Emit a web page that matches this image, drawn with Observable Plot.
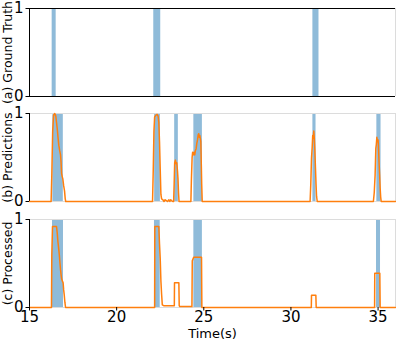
<!DOCTYPE html>
<html><head><meta charset="utf-8">
<script src="https://cdn.jsdelivr.net/npm/d3@7"></script>
<script src="https://cdn.jsdelivr.net/npm/@observablehq/plot@0.6"></script>
<style>body{margin:0;background:#fff} #chart{position:relative;width:396px;height:340px} #chart svg{display:block}</style>
</head><body><div id="chart"></div>
<script>
const timeDomain = [15, 36];
const xTicks = [15, 20, 25, 30, 35];
const yTicks = [0, 1];
const panelLabels = ["(a) Ground Truth", "(b) Predictions", "(c) Processed"];
const xLabel = "Time(s)";

// ground-truth event spans (s)
const gtStart = [16.30, 22.13, 31.26];
const gtEnd   = [16.53, 22.53, 31.61];
// predicted event spans (s)
const predSpanStart = [16.34, 22.18, 23.33, 24.43, 31.26, 34.93];
const predSpanEnd   = [16.94, 22.51, 23.54, 24.92, 31.44, 35.17];
// processed event spans (s)
const procSpanStart = [16.32, 22.17, 24.43, 34.91];
const procSpanEnd   = [16.95, 22.50, 24.92, 35.14];

// raw prediction curve
const predTime = [15.0,
  16.24,16.28,16.33,16.38,16.45,16.51,16.55,16.59,16.64,16.68,16.73,16.78,16.81,16.84,16.88,16.91,16.96,17.01,17.05,17.08,
  22.06,22.10,22.14,22.18,22.25,22.32,22.38,22.42,22.46,22.50,22.54,22.58,22.65,22.72,22.78,22.85,22.92,23.00,23.05,23.10,23.15,23.22,
  23.27,23.30,23.33,23.37,23.41,23.45,23.49,23.52,23.55,23.58,
  24.26,24.29,24.33,24.36,24.40,24.44,24.48,24.52,24.56,24.60,24.64,24.68,24.71,24.74,24.77,24.80,24.83,24.86,24.88,24.91,
  31.10,31.14,31.18,31.22,31.25,31.28,31.31,31.34,31.37,31.41,31.44,31.47,31.51,
  34.73,34.78,34.83,34.87,34.90,34.93,34.97,35.00,35.02,35.06,35.09,35.12,35.15,35.18,
  36.0];
const predValue = [0,
  0,0.30,0.80,0.98,1.00,0.97,0.90,0.83,0.72,0.64,0.58,0.53,0.45,0.32,0.28,0.26,0.18,0.12,0.03,0,
  0,0.35,0.80,0.96,0.98,0.99,0.97,0.90,0.68,0.37,0.08,0.03,0.02,0,0.02,0.01,0,0.02,0,0.02,0.01,0,
  0,0.20,0.44,0.47,0.43,0.44,0.35,0.26,0.10,0,
  0,0.25,0.50,0.56,0.53,0.56,0.53,0.58,0.60,0.66,0.70,0.76,0.77,0.73,0.75,0.72,0.68,0.40,0.20,0,
  0,0.20,0.49,0.62,0.75,0.72,0.80,0.72,0.60,0.37,0.20,0.06,0,
  0,0.10,0.30,0.60,0.65,0.73,0.68,0.70,0.64,0.43,0.30,0.15,0.05,0,
  0];

// processed curve
const procTime = [15.0,
  16.26,16.28,16.32,16.55,16.59,16.63,16.67,16.71,16.75,16.78,16.82,16.85,16.89,16.93,16.96,16.99,17.03,17.07,
  22.18,22.19,22.42,22.46,22.50,22.54,22.58,22.62,22.70,23.31,23.32,23.57,23.59,23.62,24.32,24.34,24.42,24.87,24.89,
  31.17,31.18,31.43,31.45,
  34.80,34.81,35.10,35.12,
  36.0];
const procValue = [0,
  0,0.60,0.92,0.92,0.85,0.75,0.68,0.60,0.50,0.43,0.36,0.32,0.30,0.28,0.20,0.15,0.06,0,
  0,0.92,0.92,0.72,0.56,0.30,0.15,0.03,0.02,0.02,0.28,0.28,0.02,0.01,0.01,0.53,0.57,0.57,0,
  0,0.14,0.14,0,
  0,0.39,0.39,0,
  0];

const spans = (s, e) => s.map((d, i) => ({start: d, end: e[i]}));
const series = (t, v) => t.map((d, i) => ({t: d, v: v[i]}));

const BLUE = "#8fbbd9", ORANGE = "#ff7f0e", GRID = "#dcdcdc";
const FONT = "'DejaVu Sans', sans-serif";

function panel({height, marginTop, marginBottom, label, bars, lines, topSpine, bottomSpine, xAxis}) {
  return Plot.plot({
    width: 396, height, marginLeft: 29, marginRight: 1, marginTop, marginBottom,
    style: {fontFamily: FONT, fontSize: "13px", color: "black", background: "transparent", overflow: "visible"},
    x: {domain: timeDomain, axis: null},
    y: {domain: [0, 1], axis: null},
    marks: [
      Plot.rect(bars, {x1: "start", x2: "end", y1: 0, y2: 1, fill: BLUE}),
      Plot.ruleY([1], {stroke: topSpine}),
      Plot.ruleY([0], {stroke: bottomSpine}),
      Plot.ruleX([timeDomain[1]], {stroke: GRID}),
      Plot.ruleX([timeDomain[0]], {stroke: "black"}),
      ...lines,
      Plot.axisY(yTicks, {tickSize: 3.5, tickPadding: 2.5, fontSize: 15, tickFormat: d => String(d), label: null}),
      Plot.text([label], {text: d => d, frameAnchor: "left", textAnchor: "middle", rotate: -90, dx: -21.5, fontSize: 12.5}),
      ...(xAxis ? [
        Plot.axisX(xTicks, {tickSize: 3.5, tickPadding: 0, fontSize: 15, tickFormat: d => String(d), label: null}),
        Plot.text([xLabel], {text: d => d, frameAnchor: "bottom", dy: 30.5, fontSize: 13})
      ] : [])
    ]
  });
}

const pred = series(predTime, predValue);
const proc = series(procTime, procValue);
const chart = document.getElementById("chart");

chart.append(panel({
  height: 105, marginTop: 8, marginBottom: 9, label: panelLabels[0],
  bars: spans(gtStart, gtEnd), lines: [],
  topSpine: "black", bottomSpine: "black", xAxis: false
}));
chart.append(panel({
  height: 105, marginTop: 8, marginBottom: 9, label: panelLabels[1],
  bars: spans(predSpanStart, predSpanEnd),
  lines: [Plot.line(pred, {x: "t", y: "v", stroke: ORANGE, strokeWidth: 1.5})],
  topSpine: GRID, bottomSpine: GRID, xAxis: false
}));
chart.append(panel({
  height: 130, marginTop: 9, marginBottom: 33, label: panelLabels[2],
  bars: spans(procSpanStart, procSpanEnd),
  lines: [Plot.line(proc, {x: "t", y: "v", stroke: ORANGE, strokeWidth: 1.5})],
  topSpine: GRID, bottomSpine: GRID, xAxis: true
}));
</script></body></html>
